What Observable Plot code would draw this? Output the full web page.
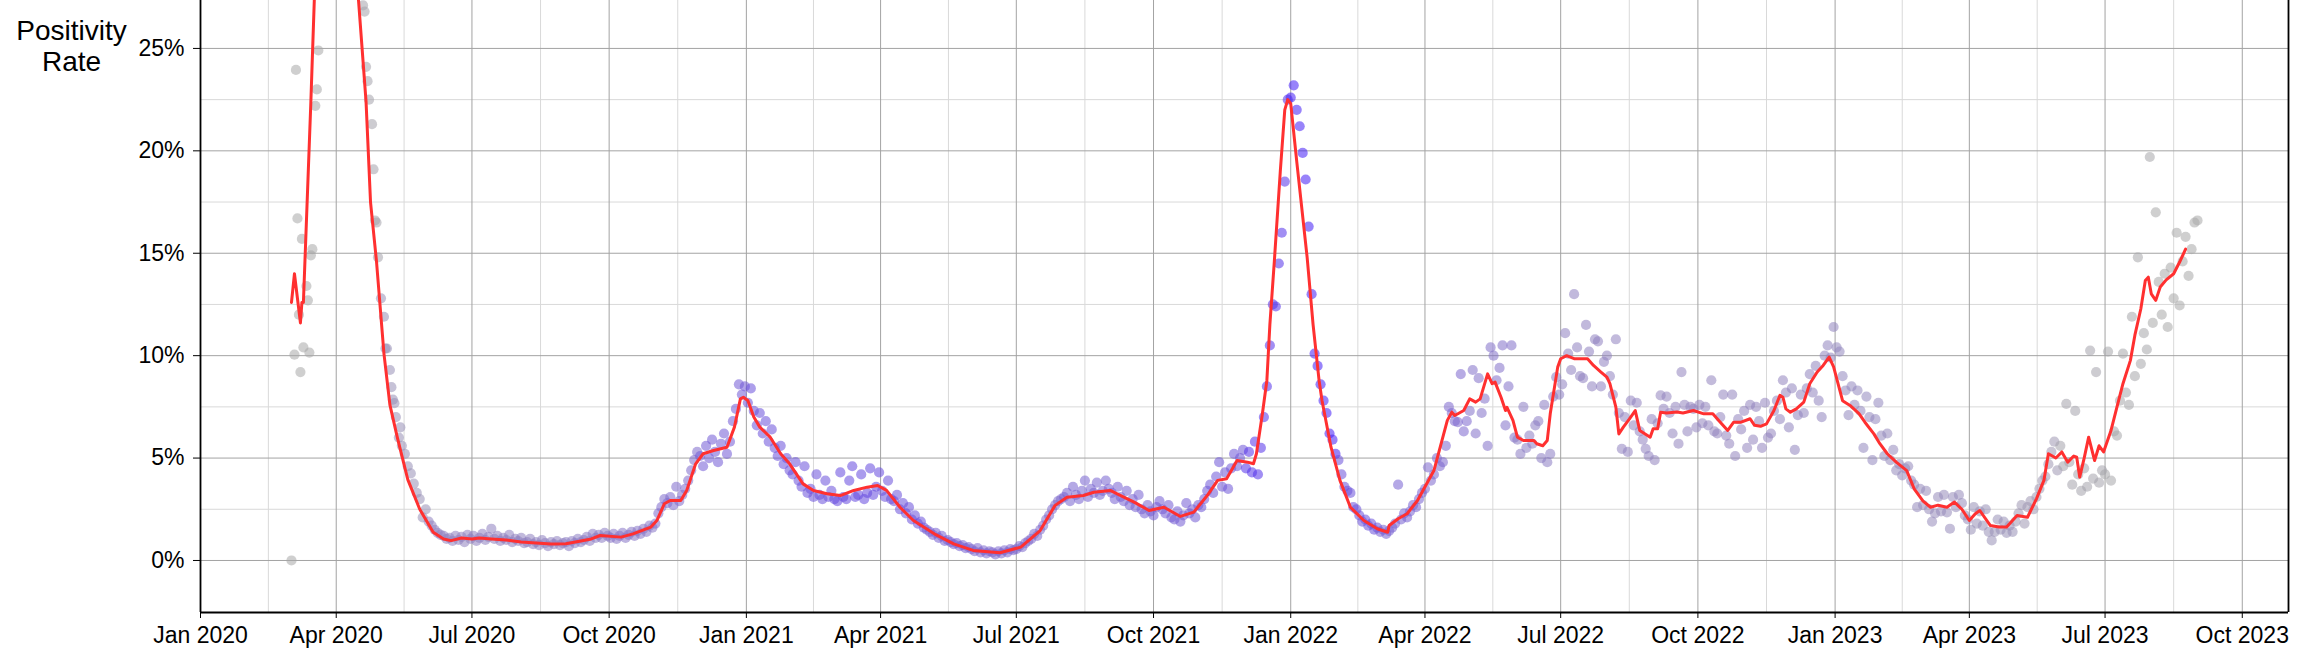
<!DOCTYPE html>
<html>
<head>
<meta charset="utf-8">
<script src="https://cdn.jsdelivr.net/npm/d3@7"></script>
<script src="https://cdn.jsdelivr.net/npm/@observablehq/plot@0.6"></script>
<style>
html, body { margin: 0; padding: 0; background: #fff; }
#chart { width: 2304px; height: 660px; }
</style>
</head>
<body>
<div id="chart"></div>
<script>
// ---------- DATA ----------
// Daily positivity rate (%), sampled every 2 days; each yearly list starts at its start date
const pts2020Start = "2020-03-02";
const pts2020 = [
  0.0, 10.05, 16.7, 9.2, 10.4, 13.4, 10.15, 15.2, 22.2, 24.9, 30, 34, 36, 39, 37,
  36, 39, 35, 37, 33, 34, 30, 31, 28.5, 27.1, 24.1, 22.5, 21.3, 16.6, 14.8,
  12.8, 11.9, 10.35, 9.3, 7.85, 7.0, 6.0, 5.6, 5.2, 4.6, 4.25, 3.75, 3.3, 3.0, 2.1, 2.5,
  1.9, 1.7, 1.5, 1.35, 1.25, 1.2, 1.05, 1.1, 0.95, 1.2, 1.0, 1.15, 0.9, 1.25, 1.05,
  1.2, 0.95, 1.1, 1.3, 1.0, 1.15, 1.55, 1.05, 1.2, 0.95, 1.1, 1.0, 1.25, 0.9, 1.05,
  0.95, 1.1, 0.85, 0.9, 1.05, 0.8, 0.9, 0.75, 1.0, 0.85, 0.7, 0.9, 0.8, 0.95, 0.75, 0.85,
  0.9, 0.7, 0.95, 0.85, 1.05, 0.9, 1.0, 1.15, 0.95, 1.3, 1.1, 1.25, 1.1, 1.35, 1.2,
  1.1, 1.3, 1.05, 1.2, 1.35, 1.1, 1.25, 1.4, 1.2, 1.45, 1.3, 1.55, 1.4, 1.7, 1.6,
  1.8, 2.3, 2.6, 3.0, 2.8, 3.1, 2.7, 3.6, 2.9, 3.2, 3.5, 3.9, 4.4, 4.9, 5.3,
  5.1, 4.6, 5.6, 5.0, 5.9, 5.3, 4.8, 5.7, 6.2, 5.2, 5.8, 6.8, 7.4, 8.6, 8.1, 8.5
];
const pts2021Start = "2021-01-02";
const pts2021 = [
  7.7, 8.4, 7.3, 6.6, 7.2, 6.2, 6.8, 5.8, 6.4, 5.5, 5.1, 5.6, 4.7, 5.0, 4.4,
  4.2, 4.8, 3.9, 3.6, 4.6, 3.3, 3.5, 3.1, 4.2, 3.2, 3.0, 3.9, 3.1, 3.4,
  3.0, 2.9, 4.3, 3.1, 3.0, 3.9, 4.6, 3.1, 3.2, 4.2, 3.0, 3.3, 4.5, 3.2, 3.6, 4.3,
  3.4, 3.1, 3.9, 3.0, 2.9, 3.2, 2.5, 2.8, 2.3, 2.6, 2.0, 2.2, 1.8, 1.9, 1.6,
  1.5, 1.4, 1.25, 1.35, 1.1, 1.2, 0.95, 1.0, 0.9, 0.8, 0.85, 0.7, 0.75, 0.6, 0.65,
  0.55, 0.45, 0.6, 0.4, 0.5, 0.35, 0.45, 0.4, 0.3, 0.45, 0.35, 0.5, 0.4, 0.55, 0.5,
  0.55, 0.7, 0.65, 0.85, 0.95, 1.05, 1.3, 1.2, 1.5, 1.7, 2.0, 2.2, 2.5, 2.7, 2.9, 3.0,
  3.1, 3.3, 2.9, 3.6, 3.2, 3.0, 3.4, 3.9, 3.1, 3.5, 3.3, 3.8, 3.2, 3.4, 3.9,
  3.5, 3.3, 3.0, 3.6, 3.1, 2.9, 3.4, 2.7, 3.0, 2.6, 3.2, 2.5, 2.3, 2.7, 2.4,
  2.2, 2.6, 2.9, 2.5, 2.3, 2.7, 2.1, 2.0, 2.4, 1.9, 2.2, 2.8, 2.3, 2.5, 2.1, 2.7,
  2.6, 3.0, 3.4, 3.7, 3.3, 4.1, 4.8, 3.6, 4.3, 3.5, 4.5, 5.2, 4.6, 5.0, 5.4,
  4.5, 5.3, 4.3, 5.8, 4.2, 5.5, 7.0, 8.5, 10.5, 12.5, 12.4, 14.5, 16.0, 18.5, 22.5
];
const pts2022Start = "2022-01-01";
const pts2022 = [
  22.6, 23.2, 22.0, 21.2, 19.9, 18.6, 16.3, 13.0, 10.1, 9.5, 8.6, 7.8, 7.2, 6.2, 5.9, 5.2,
  4.9, 4.2, 3.6, 3.4, 3.3, 2.6, 2.5, 2.2, 1.9, 2.0, 1.7, 1.8, 1.5, 1.6,
  1.4, 1.5, 1.3, 1.45, 1.6, 1.8, 3.7, 2.0, 2.3, 2.1, 2.4, 2.7, 2.6, 3.0, 3.3,
  3.5, 4.55, 3.9, 4.2, 5.0, 4.6, 4.8, 5.6, 7.5, 7.2, 6.8, 6.75, 9.1, 6.3, 6.8,
  7.3, 9.3, 6.2, 8.9, 7.2, 7.9, 5.6, 10.4, 10.0, 8.8, 9.4, 10.5, 6.6, 8.5, 10.5, 6.0,
  5.9, 5.2, 7.5, 5.5, 6.1, 5.7, 6.6, 6.8, 5.0, 7.6, 4.8, 5.2, 8.0, 8.95, 8.1,
  8.6, 11.1, 10.1, 9.3, 13.0, 10.4, 9.0, 8.9, 11.5, 10.2, 8.5, 10.8, 10.7, 8.5, 9.7,
  10.0, 9.0, 8.1, 10.8, 7.2, 5.45, 7.0, 5.3, 7.8, 6.6, 7.7, 6.3, 5.9, 5.45, 5.1, 6.9,
  4.9, 6.7, 8.06, 7.4, 8.0, 7.2, 6.2, 7.5, 5.7, 9.2, 7.6, 6.3, 7.5, 7.4, 6.5,
  7.6, 6.7, 7.5, 6.6, 8.8, 6.3, 6.2, 7.0, 8.1, 6.1, 5.7, 8.1, 5.1, 6.9, 6.4,
  7.3, 5.5, 7.6, 5.9, 7.5, 6.8, 5.5, 7.7, 6.0, 6.2, 7.3, 7.8, 6.9, 8.8, 8.2,
  6.5, 8.4, 5.4, 7.1, 8.1, 7.2, 8.4, 9.1, 8.2, 9.5, 7.8, 7.0, 10.0, 10.5, 9.9, 11.4
];
const pts2023Start = "2023-01-02";
const pts2023 = [
  10.4, 10.2, 9.0, 8.3, 7.1, 8.5, 7.6, 8.3, 7.3, 5.5, 8.0, 7.0, 4.9, 6.9, 7.7,
  6.1, 5.1, 6.2, 4.9, 5.4, 4.4, 4.7, 4.15, 4.5, 4.6, 3.9, 3.7, 2.6, 3.5,
  2.7, 3.4, 2.5, 1.9, 2.3, 3.1, 2.4, 3.2, 2.35, 1.55, 3.1, 2.6, 3.2, 2.8, 2.2, 2.0,
  1.5, 2.6, 1.8, 2.4, 1.7, 2.5, 1.4, 0.98, 1.4, 2.0, 1.5, 1.9, 1.35, 1.7, 1.4,
  1.9, 2.3, 2.7, 1.8, 2.6, 2.9, 2.5, 3.1, 3.5, 3.9, 4.1, 4.7, 5.3, 5.8, 4.4,
  5.6, 4.6, 7.65, 4.8, 3.7, 7.3, 4.2, 3.4, 4.5, 3.6, 10.25, 4.0, 9.2, 3.8, 4.4,
  4.2, 10.2, 3.9, 6.3, 6.1, 7.8, 10.1, 8.2, 7.6, 11.9, 9.0, 14.8, 9.6, 11.1, 10.3, 19.7,
  11.6, 17.0, 13.6, 12.0, 14.0, 11.4, 14.3, 12.8, 16.0, 12.45, 14.6, 15.8, 13.9, 15.2, 16.5,
  16.6
];
// Additional early-2020 daily readings
const extraDates = ["2020-03-05","2020-03-07","2020-03-09","2020-03-13","2020-03-15","2020-03-19",
  "2020-04-20","2020-04-22","2020-04-26","2020-04-28","2020-05-04","2020-05-08","2020-05-10","2020-05-14"];
const extraValues = [23.95, 12.0, 15.7, 12.7, 14.9, 23.0, 26.8, 23.4, 19.1, 16.5, 10.35, 8.46, 7.68, 6.5];

// Relative testing volume per month, Mar 2020 .. Sep 2023 (point colour)
const testLevel = [
  0, 0.08, 0.3, 0.48, 0.5, 0.5, 0.52, 0.55, 0.6, 0.68,
  0.72, 0.72, 0.76, 0.72, 0.65, 0.62, 0.6, 0.64, 0.65, 0.67, 0.7, 0.86,
  0.96, 0.72, 0.65, 0.62, 0.58, 0.52, 0.5, 0.47, 0.45, 0.45, 0.45, 0.46,
  0.43, 0.4, 0.37, 0.3, 0.2, 0.08, 0.03, 0, 0
];

// 7-day average (red line)
const lineDates = [
  "2020-03-02","2020-03-04","2020-03-08","2020-03-09","2020-03-10","2020-03-15","2020-03-19","2020-03-25","2020-03-31",
  "2020-04-06","2020-04-12","2020-04-16","2020-04-21","2020-04-24","2020-04-28","2020-05-03","2020-05-07","2020-05-12",
  "2020-05-19","2020-05-27","2020-06-05","2020-06-12","2020-06-17","2020-06-24","2020-07-01","2020-07-06","2020-07-14",
  "2020-07-24","2020-08-03","2020-08-13","2020-08-23","2020-09-02","2020-09-12","2020-09-19","2020-09-25","2020-10-09",
  "2020-10-17","2020-10-29","2020-11-02","2020-11-07","2020-11-11","2020-11-18","2020-11-22","2020-11-28","2020-12-03",
  "2020-12-10","2020-12-19","2020-12-24","2020-12-28","2020-12-30",
  "2021-01-02","2021-01-06","2021-01-10","2021-01-17","2021-01-24","2021-01-30","2021-02-08","2021-02-15","2021-02-24",
  "2021-03-05","2021-03-14","2021-03-23","2021-03-30","2021-04-05","2021-04-14","2021-04-23","2021-05-07","2021-05-20",
  "2021-06-02","2021-06-20","2021-07-04","2021-07-17","2021-07-27","2021-08-04","2021-08-15","2021-08-22","2021-09-02",
  "2021-09-09","2021-09-18","2021-09-28","2021-10-08","2021-10-19","2021-10-28","2021-11-06","2021-11-13","2021-11-19",
  "2021-11-26","2021-12-03","2021-12-07","2021-12-09","2021-12-13","2021-12-16","2021-12-18","2021-12-21","2021-12-25",
  "2021-12-28","2021-12-30",
  "2022-01-01","2022-01-05","2022-01-12","2022-01-16","2022-01-20","2022-01-22","2022-01-28","2022-02-03","2022-02-10",
  "2022-02-19","2022-02-28","2022-03-07","2022-03-08","2022-03-14","2022-03-20","2022-03-27","2022-04-07","2022-04-16",
  "2022-04-19","2022-04-21","2022-04-27","2022-05-01","2022-05-05","2022-05-08","2022-05-13","2022-05-16","2022-05-18",
  "2022-05-22","2022-05-25","2022-05-26","2022-05-30","2022-06-02","2022-06-06","2022-06-13","2022-06-15","2022-06-19",
  "2022-06-22","2022-06-24","2022-06-29","2022-07-01","2022-07-05","2022-07-10","2022-07-19","2022-07-23","2022-07-28",
  "2022-08-01","2022-08-03","2022-08-07","2022-08-09","2022-08-12","2022-08-16","2022-08-20","2022-08-23","2022-08-30",
  "2022-09-01","2022-09-04","2022-09-06","2022-09-10","2022-09-17","2022-09-21","2022-09-28","2022-10-05","2022-10-11",
  "2022-10-16","2022-10-21","2022-10-25","2022-10-30","2022-11-05","2022-11-08","2022-11-12","2022-11-16","2022-11-21",
  "2022-11-25","2022-11-27","2022-11-29","2022-12-02","2022-12-06","2022-12-11","2022-12-15","2022-12-20","2022-12-24",
  "2022-12-28","2022-12-31",
  "2023-01-06","2023-01-11","2023-01-17","2023-01-21","2023-01-27","2023-01-31","2023-02-05","2023-02-11","2023-02-18",
  "2023-02-23","2023-03-01","2023-03-06","2023-03-11","2023-03-17","2023-03-22","2023-03-27","2023-04-01","2023-04-05",
  "2023-04-08","2023-04-15","2023-04-21","2023-04-26","2023-05-03","2023-05-10","2023-05-16","2023-05-21","2023-05-24",
  "2023-05-29","2023-06-02","2023-06-06","2023-06-10","2023-06-12","2023-06-14","2023-06-17","2023-06-20","2023-06-24",
  "2023-06-27","2023-06-30","2023-07-05","2023-07-09","2023-07-13","2023-07-18","2023-07-21","2023-07-25","2023-07-28",
  "2023-07-30","2023-08-01","2023-08-04","2023-08-07","2023-08-11","2023-08-16","2023-08-20","2023-08-24"
];
const lineValues = [
  12.6, 14.0, 11.6, 12.6, 12.6, 22.4, 31, 37, 38,
  36, 31, 27.3, 22.4, 17.5, 14.6, 10.1, 7.6, 6.0,
  3.95, 2.5, 1.38, 1.05, 0.97, 1.1, 1.05, 1.1, 1.05,
  1.0, 0.9, 0.85, 0.8, 0.82, 0.95, 1.05, 1.22, 1.14,
  1.30, 1.63, 1.95, 2.77, 2.93, 2.93, 3.42, 4.72, 5.21,
  5.37, 5.53, 6.51, 7.89, 7.97,
  7.81, 7.0, 6.51, 6.02, 5.21, 4.72, 3.74, 3.42, 3.26,
  3.17, 3.42, 3.58, 3.66, 3.42, 2.6, 1.95, 1.3, 0.81,
  0.49, 0.38, 0.65, 1.46, 2.69, 3.09, 3.17, 3.33, 3.42,
  3.17, 2.85, 2.44, 2.6, 2.15, 2.36, 3.17, 3.91, 3.99,
  4.88, 4.8, 4.72, 5.21, 7.16, 8.79, 11.5, 14.6, 19,
  22, 22.5,
  22.3, 19.5, 14.8, 11.5, 8.79, 7.8, 5.53, 3.91, 2.6,
  1.95, 1.55, 1.38, 1.71, 2.04, 2.28, 2.93, 4.39, 6.84,
  7.24, 7.08, 7.32, 7.89, 7.73, 7.89, 9.11, 8.63, 8.71,
  7.97, 7.32, 7.48, 6.84, 6.02, 5.86, 5.86, 5.7, 5.6,
  5.86, 7.16, 9.44, 9.85, 10.0, 9.85, 9.85, 9.52, 9.2,
  8.95, 8.63, 7.49, 6.18, 6.51, 6.9, 7.32, 6.35, 6.02,
  6.43, 6.43, 7.24, 7.2, 7.25, 7.2, 7.32, 7.16, 7.16,
  6.75, 6.35, 6.75, 6.75, 6.92, 6.6, 6.55, 6.67, 7.32,
  8.06, 7.97, 7.4, 7.24, 7.4, 7.73, 8.63, 9.2, 9.52,
  9.93, 9.45,
  7.8, 7.57, 7.17, 6.75, 6.18, 5.7, 5.21, 4.8, 4.39,
  3.5, 2.9, 2.6, 2.7, 2.6, 2.85, 2.5, 1.95, 2.28,
  2.44, 1.71, 1.63, 1.63, 2.2, 2.11, 3.01, 3.91, 5.21,
  5.0, 5.3, 4.8, 5.1, 5.04, 4.07, 5.0, 6.02, 4.88,
  5.6, 5.3, 6.35, 7.5, 8.63, 9.77, 11.0, 12.29, 13.67,
  13.83, 13.02, 12.7, 13.35, 13.7, 14.0, 14.57, 15.2
];

// Axis ticks
const xTickDates = ["2020-01-01","2020-04-01","2020-07-01","2020-10-01","2021-01-01","2021-04-01","2021-07-01","2021-10-01",
  "2022-01-01","2022-04-01","2022-07-01","2022-10-01","2023-01-01","2023-04-01","2023-07-01","2023-10-01"];
const yTicks = [0, 5, 10, 15, 20, 25];
const yMinorTicks = [2.5, 7.5, 12.5, 17.5, 22.5];

// ---------- BUILD TABLES ----------
const utc = s => new Date(s + "T00:00:00Z");
const points = [];
for (const [start, vals] of [[pts2020Start, pts2020], [pts2021Start, pts2021], [pts2022Start, pts2022], [pts2023Start, pts2023]]) {
  const t0 = utc(start);
  vals.forEach((v, i) => points.push({date: d3.utcDay.offset(t0, 2 * i), rate: v}));
}
extraDates.forEach((d, i) => points.push({date: utc(d), rate: extraValues[i]}));
points.sort((a, b) => a.date - b.date);
for (const p of points) {
  const m = (p.date.getUTCFullYear() - 2020) * 12 + p.date.getUTCMonth() - 2;
  p.tests = testLevel[Math.max(0, Math.min(testLevel.length - 1, m))];
}
const lineData = lineDates.map((d, i) => ({date: utc(d), rate: lineValues[i]}));

const xTicks = xTickDates.map(utc);
const xMinor = xTicks.slice(0, -1).map((d, i) => new Date((+d + +xTicks[i + 1]) / 2));
const xDomain = [utc("2020-01-01"), utc("2023-11-01")];
const yDomain = [-2.54, 27.34];

const chart = Plot.plot({
  width: 2304,
  height: 660,
  marginLeft: 200,
  marginRight: 16,
  marginTop: 0,
  marginBottom: 48,
  style: {fontFamily: "'Liberation Sans', Arial, Helvetica, sans-serif", fontSize: "23px", color: "#000", background: "#fff"},
  x: {type: "utc", domain: xDomain, ticks: xTicks, tickFormat: d3.utcFormat("%b %Y"), tickSize: 6, tickPadding: 8, label: null},
  y: {domain: yDomain, ticks: yTicks, tickFormat: d => d + "%", tickSize: 7, tickPadding: 9, label: null},
  color: {type: "linear", domain: [0, 0.5, 1], range: ["#a8a8a8", "#8e80c0", "#3d14fa"], interpolate: "rgb"},
  marks: [
    Plot.ruleX(xMinor, {stroke: "#d9d9d9", strokeWidth: 1}),
    Plot.ruleY(yMinorTicks, {stroke: "#d9d9d9", strokeWidth: 1}),
    Plot.ruleX(xTicks, {stroke: "#a3a3a3", strokeWidth: 1}),
    Plot.ruleY(yTicks, {stroke: "#a3a3a3", strokeWidth: 1}),
    Plot.dot(points, {x: "date", y: "rate", r: 5.1, fill: "tests", fillOpacity: 0.55, clip: true}),
    Plot.line(lineData, {x: "date", y: "rate", stroke: "#ff3030", strokeWidth: 3, clip: true}),
    Plot.ruleX([xDomain[0]], {stroke: "#000", strokeWidth: 1.8}),
    Plot.ruleX([xDomain[1]], {stroke: "#000", strokeWidth: 1.8}),
    Plot.ruleY([yDomain[0]], {stroke: "#000", strokeWidth: 1.8}),
    Plot.text(["Positivity\nRate"], {frameAnchor: "top-left", dx: -129, dy: 18, fontSize: 28, textAnchor: "middle", lineAnchor: "top", lineHeight: 1.1, fill: "#000"})
  ]
});
document.getElementById("chart").appendChild(chart);
</script>
</body>
</html>
